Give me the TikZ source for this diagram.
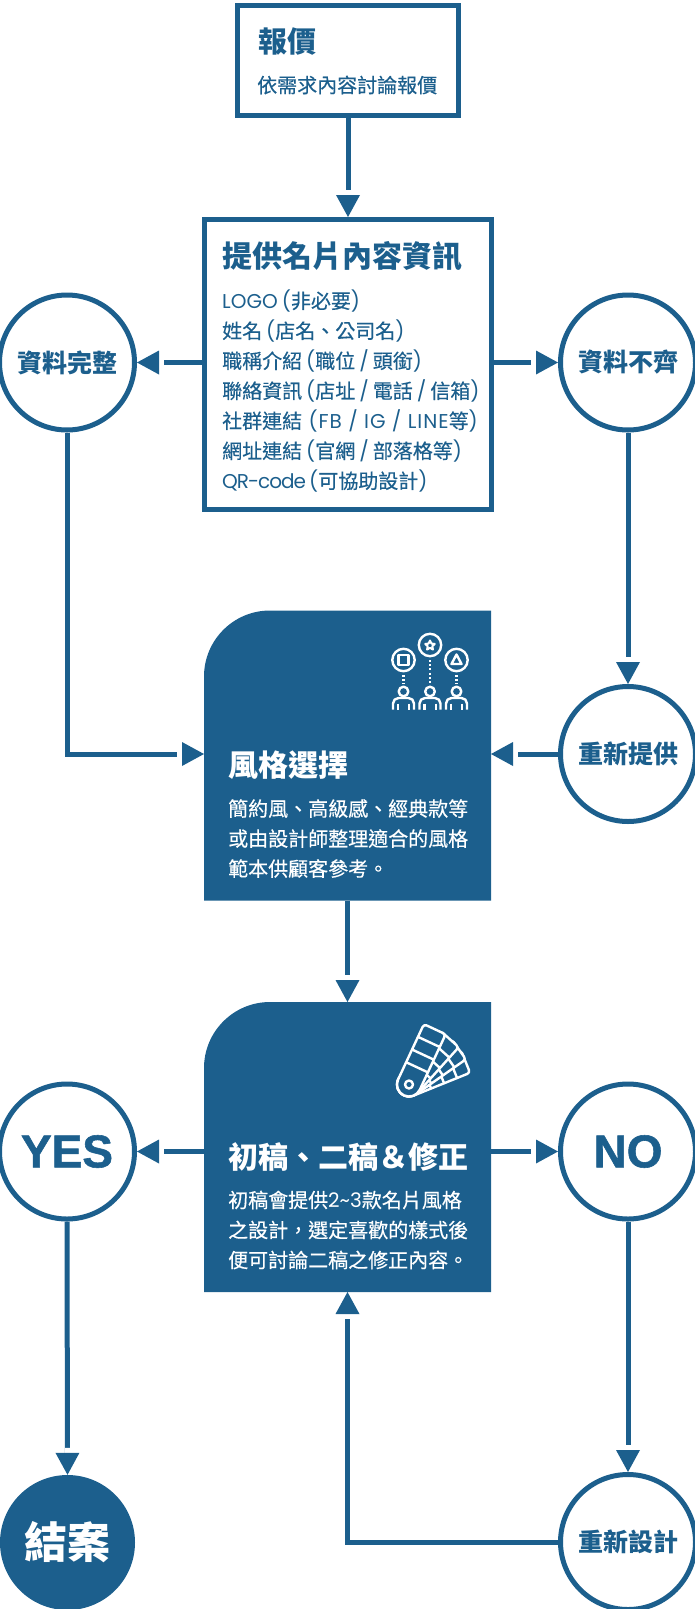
\documentclass[tikz,border=0pt]{standalone}
\usepackage{fontspec}
\usetikzlibrary{arrows.meta}
\setmainfont{Noto Sans CJK TC}
\newfontfamily\cjkbody[FakeBold=0.4]{Noto Sans CJK TC}
\newfontfamily\latfont[WordSpace=0.75]{Poppins}
\newfontfamily\latwide[LetterSpace=5]{Poppins}
\newfontfamily\latnarrow[LetterSpace=-5,WordSpace=0.75]{Poppins}
\newfontfamily\yesfont[FakeBold=1.2]{Liberation Sans Bold}
\newcommand{\lat}[1]{{\latfont #1}}
\definecolor{mblue}{HTML}{1C5F8D}
\tikzset{
  flow/.style = {draw = mblue, line width = 5pt,
    -{Rectangle[length = 5pt, width = 5pt, line width = 0pt, color = white]Triangle[length = 22pt, width = 24pt, line width = 0pt]}},
  framebox/.style = {draw = mblue, line width = 5pt, inner sep = 0},
  solidbox/.style = {inner sep = 0, outer sep = 0, minimum width = 287, minimum height = 290},
  stepcirc/.style = {circle, draw = mblue, fill = white, line width = 5pt, inner sep = 0, minimum size = 135,
    text = mblue, font = \fontsize{25}{25}\selectfont\bfseries},
  title/.style = {anchor = west, inner sep = 0, font = \fontsize{30}{30}\selectfont\bfseries},
  body/.style = {anchor = north west, inner sep = 0, align = left, font = \fontsize{20}{30}\selectfont\cjkbody},
  icon/.style = {draw = white, line width = 2.4pt, line join = round},
  dots/.style = {draw = white, line width = 2.4pt, dash pattern = on 2pt off 2.2pt}
}

\begin{document}
\begin{tikzpicture}[x = 1pt, y = -1pt]
    \useasboundingbox (0, 0) rectangle (695, 1609);

    % boxes
    \node [framebox, minimum width = 221, minimum height = 110] (quote) at (348, 60.5) {};
    \node [framebox, minimum width = 287, minimum height = 290] (info) at (348, 364.5) {};
    \node [solidbox] (style) at (347.5, 755.5) {};
    \node [solidbox] (draft) at (347.5, 1147) {};
    \foreach \b in {style, draft}
      \fill [mblue] (\b.south west) [rounded corners = 66pt] -- (\b.north west) [sharp corners] -- (\b.north east) -- (\b.south east) -- cycle;

    % circles
    \node [stepcirc] (full) at (67, 362.5) {資料完整};
    \node [stepcirc] (lack) at (628, 362.5) {資料不齊};
    \node [stepcirc] (resend) at (628, 754) {重新提供};
    \node [stepcirc, font = \fontsize{46}{46}\selectfont\yesfont] (yes) at (67, 1151.5) {YES};
    \node [stepcirc, font = \fontsize{46}{46}\selectfont\yesfont] (no) at (628, 1151.5) {NO};
    \node [stepcirc] (redesign) at (628, 1542) {重新設計};
    \node [circle, fill = mblue, inner sep = 0, minimum size = 135, text = white,
      font = \fontsize{43}{43}\selectfont\bfseries] (close) at (67.5, 1542.5) {\raisebox{-2pt}{結案}};

    % texts
    \node [title, font = \fontsize{29}{29}\selectfont\bfseries, text = mblue] (quotetitle) at (258, 42) {報價};
    \node [body, text = mblue, anchor = west] (quotetext) at (257, 85) {依需求內容討論報價};

    \node [title, text = mblue] (infotitle) at (222, 256.5) {提供名片內容資訊};
    \node [body, text = mblue] (infotext) at (222, 289.5) {%
      \lat{LOGO (}非必要\lat{)}\\
      姓名\lat{ (}店名、公司名\lat{)}\\
      職稱介紹\lat{ (}職位\lat{ / }頭銜\lat{)}\\
      聯絡資訊\lat{ (}店址\lat{ / }電話\lat{ / }信箱\lat{)}\\
      社群連結{\latwide{ (FB / IG / LINE}}等\lat{)}\\
      網址連結\lat{ (}官網\lat{ / }部落格等\lat{)}\\
      {\latnarrow QR-code (}可協助設計\lat{)}};

    \node [title, text = white] (styletitle) at (228, 765) {風格選擇};
    \node [body, text = white] (styletext) at (228, 799) {%
      簡約風、高級感、經典款等\\
      或由設計師整理適合的風格\\
      範本供顧客參考。};

    \node [title, text = white] (drafttitle) at (228, 1157) {初稿、二稿＆修正};
    \node [body, text = white] (drafttext) at (228, 1190.5) {%
      初稿會提供\lat{2\textasciitilde 3}款名片風格\\
      之設計，選定喜歡的樣式後\\
      便可討論二稿之修正內容。};

    % connectors
    \draw [flow] (quote.south) -- (info.north);
    \draw [flow] (full.east -| info.west) -- (full.east);
    \draw [flow] (lack.west -| info.east) -- (lack.west);
    \draw [flow] (full.south) |- (resend.west -| style.west);
    \draw [flow] (lack.south) -- (resend.north);
    \draw [flow] (resend.west) -- (resend.west -| style.east);
    \draw [flow] (style.south) -- (draft.north);
    \draw [flow] (yes.east -| draft.west) -- (yes.east);
    \draw [flow] (no.west -| draft.east) -- (no.west);
    \draw [flow] (yes.south) -- (close.north);
    \draw [flow] (no.south) -- (redesign.north);
    \draw [flow] (redesign.west) -| (draft.south);

    % people icon
    \foreach \px/\py in {403.5/660, 430/645, 456.5/660} {
      \draw [icon] (\px, \py) circle [radius = 11.2];
    }
    \draw [icon] (398.5, 655) rectangle (408.5, 665);
    \begin{scope}[shift = {(430, 645.5)}, y = 1pt]
      \draw [icon, line width = 2pt] (90:5) -- (126:2.4) -- (162:5) -- (198:2.4) -- (234:5) -- (270:2.4) -- (306:5) -- (342:2.4) -- (18:5) -- (54:2.4) -- cycle;
    \end{scope}
    \draw [icon] (456.5, 654.5) -- (461.5, 664) -- (451.5, 664) -- cycle;
    \draw [dots] (403.5, 675) -- (403.5, 684);
    \draw [dots] (430, 660) -- (430, 684);
    \draw [dots] (456.5, 675) -- (456.5, 684);
    \foreach \px in {403.5, 430, 456.5} {
      \begin{scope}[shift = {(\px, 691.5)}]
        \draw [icon] (0, 0) circle [radius = 4.8];
        \draw [icon, rounded corners = 5.5pt] (-10.5, 18) -- (-10.5, 6.5) -- (10.5, 6.5) -- (10.5, 18);
        \draw [icon] (-5.7, 12) -- (-5.7, 18) (5.7, 12) -- (5.7, 18);
      \end{scope}
    }

    % swatch icon
    \foreach \ang in {-68, -55, -42, -25} {
      \begin{scope}[shift = {(409, 1084.5)}, y = 1pt, rotate = \ang]
        \fill [mblue] (-12, 0) -- (-12, 58) arc [start angle = 180, end angle = 90, radius = 3] -- (9, 61) arc [start angle = 90, end angle = 0, radius = 3] -- (12, 0) arc [start angle = 0, end angle = -180, radius = 12] -- cycle;
        \draw [icon] (-12, 0) -- (-12, 58) arc [start angle = 180, end angle = 90, radius = 3] -- (9, 61) arc [start angle = 90, end angle = 0, radius = 3] -- (12, 0) arc [start angle = 0, end angle = -180, radius = 12] -- cycle;
        \foreach \sy in {19, 33, 47}
          \draw [icon] (-12, \sy) -- (12, \sy);
      \end{scope}
    }
    \draw [icon] (409, 1084.5) circle [radius = 4];
  \end{tikzpicture}
\end{document}
